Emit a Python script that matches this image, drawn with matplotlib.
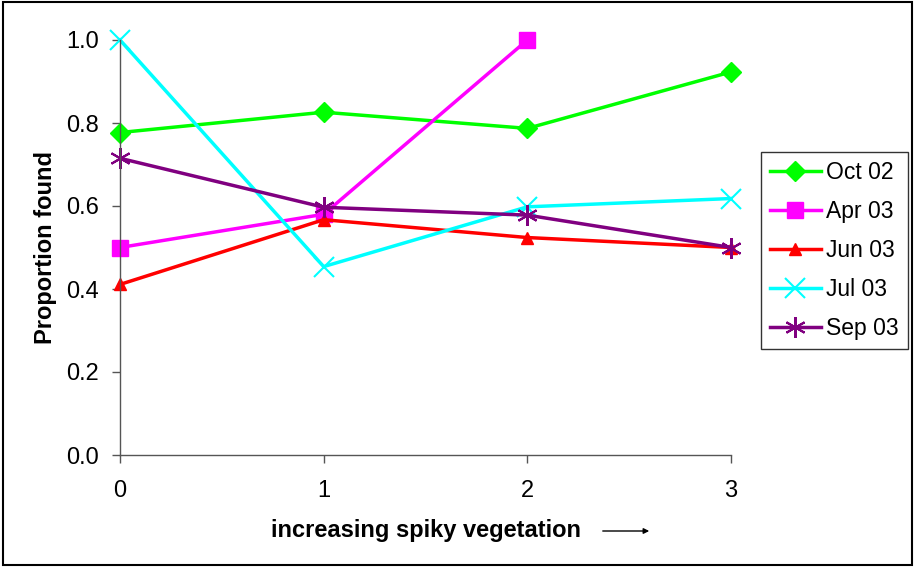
import numpy as np
import matplotlib.pyplot as plt
from matplotlib.patches import Rectangle

plt.rcParams['font.family'] = ['Liberation Sans', 'DejaVu Sans']

# Proportion found at each level of spiky vegetation
levels = [0, 1, 2, 3]
oct02 = [0.777, 0.826, 0.787, 0.923]
apr03 = [0.500, 0.580, 1.000]
jun03 = [0.411, 0.567, 0.524, 0.500]
jul03 = [1.000, 0.454, 0.598, 0.618]
sep03 = [0.715, 0.597, 0.578, 0.500]

fig = plt.figure(figsize=(9.15, 5.77), dpi=100)
ax = fig.add_axes([120 / 915, 122 / 577, 611 / 915, 415 / 577])

lw = 2.5
ax.plot(levels, oct02, color='#00FF00', lw=lw, marker='D', markersize=10, label='Oct 02')
ax.plot(levels[:3], apr03, color='#FF00FF', lw=lw, marker='s', markersize=12, label='Apr 03')
ax.plot(levels, jun03, color='#FF0000', lw=lw, marker='^', markersize=9, label='Jun 03')
ax.plot(levels, jul03, color='#00FFFF', lw=lw, marker='x', markersize=14,
        markeredgewidth=1.5, label='Jul 03')
ax.plot(levels, sep03, color='#800080', lw=lw, marker=(6, 2, 0), markersize=15,
        markeredgewidth=1.5, label='Sep 03')

ax.set_xlim(0, 3)
ax.set_ylim(0, 1.0)
ax.set_xticks(levels)
ax.set_yticks(np.arange(0, 1.01, 0.2))
ax.set_yticklabels(['%.1f' % v for v in np.arange(0, 1.01, 0.2)])

for side in ['top', 'right']:
    ax.spines[side].set_visible(False)
for side in ['left', 'bottom']:
    ax.spines[side].set_color('#555555')
    ax.spines[side].set_linewidth(1.0)
ax.tick_params(axis='both', direction='out', length=6, width=1, color='#555555',
               labelsize=17, pad=9)
ax.tick_params(axis='x', pad=12)

for line in ax.get_lines():
    line.set_clip_on(False)

ax.set_ylabel('Proportion found', fontsize=17, fontweight='bold', labelpad=7)

fig.text(426 / 915, 1 - 531 / 577, 'increasing spiky vegetation', fontsize=17,
         fontweight='bold', ha='center', va='center')
ax.annotate('', xy=(652 / 915, 1 - 531 / 577), xytext=(600 / 915, 1 - 531 / 577),
            xycoords='figure fraction', textcoords='figure fraction',
            arrowprops=dict(arrowstyle='-|>', color='black', lw=1, mutation_scale=8))

leg = ax.legend(loc='upper left', bbox_to_anchor=(761 / 915, 1 - 152 / 577),
                bbox_transform=fig.transFigure, fontsize=16.5, frameon=True,
                fancybox=False, edgecolor='black', handlelength=2.2,
                handletextpad=0.25, labelspacing=0.7, borderpad=0.4,
                borderaxespad=0)
leg.get_frame().set_linewidth(1.0)

fig.patches.append(Rectangle((3 / 915, 1 - 565 / 577), 909 / 915, 563 / 577,
                             transform=fig.transFigure, fill=False,
                             edgecolor='black', linewidth=1.5))

fig.savefig('out.png', dpi=100)
